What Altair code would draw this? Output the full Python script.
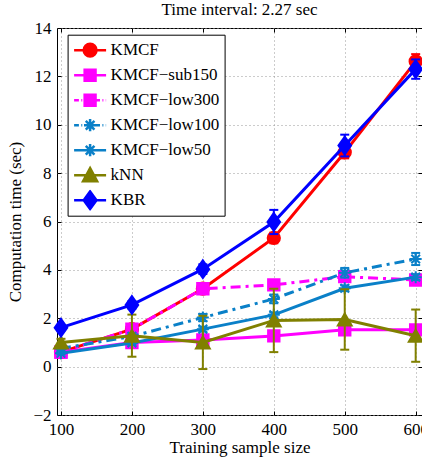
import altair as alt
import pandas as pd

x_vals = [100, 200, 300, 400, 500, 600]
y_ticks = [-2, 0, 2, 4, 6, 8, 10, 12, 14]
series_names = ["KMCF", "KMCF−sub150", "KMCF−low300", "KMCF−low100", "KMCF−low50", "kNN", "KBR"]

kmcf = [0.60, 1.55, 3.22, 5.32, 8.86, 12.62]
kmcf_err = [0.08, 0.10, 0.12, 0.22, 0.25, 0.30]
sub150 = [0.60, 1.00, 1.10, 1.27, 1.52, 1.52]
sub150_err = [0.08, 0.08, 0.08, 0.08, 0.08, 0.08]
low300 = [0.60, 1.55, 3.22, 3.38, 3.72, 3.58]
low300_err = [0.08, 0.10, 0.10, 0.10, 0.12, 0.12]
low100 = [0.75, 1.25, 2.03, 2.80, 3.88, 4.45]
low100_err = [0.05, 0.08, 0.15, 0.18, 0.20, 0.25]
low50 = [0.55, 0.98, 1.55, 2.14, 3.24, 3.70]
low50_err = [0.05, 0.08, 0.10, 0.10, 0.12, 0.12]
knn = [1.00, 1.28, 1.00, 1.91, 1.95, 1.28]
knn_err = [0.15, 0.87, 1.10, 1.31, 1.25, 1.08]
kbr = [1.61, 2.55, 4.03, 5.98, 9.14, 12.30]
kbr_err = [0.10, 0.15, 0.20, 0.50, 0.45, 0.40]

colors = ["#FF0000", "#FF00FF", "#FF00FF", "#0A80C8", "#0A80C8", "#808000", "#0000FF"]

values = [kmcf, sub150, low300, low100, low50, knn, kbr]
errors = [kmcf_err, sub150_err, low300_err, low100_err, low50_err, knn_err, kbr_err]

rows = []
for name, ys, es in zip(series_names, values, errors):
    for xv, yv, ev in zip(x_vals, ys, es):
        rows.append({"series": name, "x": xv, "y": yv, "lo": yv - ev, "hi": yv + ev})
df = pd.DataFrame(rows)

FONT = "Liberation Serif"
DASHDOT = [10, 5, 3, 5]

# marker paths (unit square [-1, 1])
CIRCLE = "M0.5,0A0.5,0.5 0 1,1 -0.5,0A0.5,0.5 0 1,1 0.5,0Z"
SQUARE = "M-0.45,-0.45L0.45,-0.45L0.45,0.45L-0.45,0.45Z"
ASTER = "M-0.5,0L0.5,0M0,-0.5L0,0.5M-0.36,-0.36L0.36,0.36M-0.36,0.36L0.36,-0.36"
TRI = "M0,-0.55L0.55,0.45L-0.55,0.45Z"
DIAM = "M0,-0.65L0.45,0L0,0.65L-0.45,0Z"

ASTER_PT = "M-1,0L1,0M0,-1L0,1M-0.72,-0.72L0.72,0.72M-0.72,0.72L0.72,-0.72"

styles = {
    "KMCF": dict(dash=None, shape="circle", size=150, filled=True),
    "KMCF−sub150": dict(dash=None, shape="square", size=130, filled=True),
    "KMCF−low300": dict(dash=DASHDOT, shape="square", size=130, filled=True),
    "KMCF−low100": dict(dash=DASHDOT, shape=ASTER_PT, size=144, filled=False),
    "KMCF−low50": dict(dash=None, shape=ASTER_PT, size=144, filled=False),
    "kNN": dict(dash=None, shape="triangle-up", size=190, filled=True),
    "KBR": dict(dash=None, shape="M0,-1.2L0.85,0L0,1.2L-0.85,0Z", size=220, filled=True),
}


def seg_line(dashdot):
    if not dashdot:
        return "M-1,0L1,0"
    segs = [(-1, -0.7), (-0.55, -0.49), (-0.34, -0.04), (0.11, 0.17), (0.32, 0.62), (0.77, 0.83), (0.98, 1.0)]
    return "".join(f"M{a},0L{b},0" for a, b in segs)


legend_paths = [
    seg_line(False) + CIRCLE.replace("0.5", "0.4"),
    seg_line(False) + SQUARE.replace("0.45", "0.34"),
    seg_line(True) + SQUARE.replace("0.45", "0.34"),
    seg_line(True) + ASTER.replace("0.5", "0.38").replace("0.36", "0.27"),
    seg_line(False) + ASTER.replace("0.5", "0.38").replace("0.36", "0.27"),
    seg_line(False) + TRI.replace("0.55", "0.44").replace("0.45", "0.38"),
    seg_line(False) + DIAM.replace("0.65", "0.55").replace("0.45", "0.4"),
]

x_scale = alt.Scale(domain=[94.4, 608.9], nice=False, zero=False)
y_scale = alt.Scale(domain=[-2, 14], nice=False, zero=False)

# main axes (bottom / left) with inward ticks via negative offset
X_main = alt.X("x:Q", scale=x_scale,
               axis=alt.Axis(orient="bottom", values=x_vals, format="d", title="Training sample size",
                             offset=-4, ticks=True, tickSize=4, tickColor="black", tickWidth=1,
                             grid=True, labelPadding=6, titlePadding=2))
Y_main = alt.Y("y:Q", scale=y_scale,
               axis=alt.Axis(orient="left", values=y_ticks, format="d", title="Computation time (sec)",
                             offset=-4, ticks=True, tickSize=4, tickColor="black", tickWidth=1,
                             grid=True, labelPadding=6, titlePadding=8))
# mirrored ticks on top / right
X_top = alt.X("x:Q", scale=x_scale,
              axis=alt.Axis(orient="top", values=x_vals, labels=False, title=None, grid=False,
                            offset=-4, ticks=True, tickSize=4, tickColor="black", tickWidth=1))
Y_right = alt.Y("y:Q", scale=y_scale,
                axis=alt.Axis(orient="right", values=y_ticks, labels=False, title=None, grid=False,
                              offset=-4, ticks=True, tickSize=4, tickColor="black", tickWidth=1))
X = alt.X("x:Q", scale=x_scale, axis=None)
Y = alt.Y("y:Q", scale=y_scale, axis=None)

layers = []
first = True
for name, color in zip(series_names, colors):
    st = styles[name]
    base = alt.Chart(df).transform_filter(alt.datum.series == name)
    line_kwargs = dict(color=color, strokeWidth=3)
    if st["dash"]:
        line_kwargs["strokeDash"] = st["dash"]
    if first:
        layers.append(base.mark_line(**line_kwargs).encode(x=X_main, y=Y_main))
        first = False
    else:
        layers.append(base.mark_line(**line_kwargs).encode(x=X, y=Y))
    layers.append(base.mark_rule(color=color, strokeWidth=2).encode(x=X, y=alt.Y("lo:Q", axis=None), y2="hi:Q"))
    layers.append(
        base.transform_fold(["lo", "hi"], as_=["k", "v"])
        .mark_tick(orient="horizontal", color=color, size=9, thickness=2, opacity=1)
        .encode(x=X, y=alt.Y("v:Q", axis=None))
    )
    pt_kwargs = dict(shape=st["shape"], size=st["size"], stroke=color, strokeWidth=2, opacity=1)
    if st["filled"]:
        pt_kwargs["fill"] = color
        pt_kwargs["filled"] = True
    else:
        pt_kwargs["filled"] = False
    layers.append(base.mark_point(**pt_kwargs).encode(x=X, y=Y))

legend = alt.Legend(
    title=None, orient="none", legendX=10.6, legendY=6.7,
    symbolSize=1024, clipHeight=21, rowPadding=4, labelOffset=3,
    labelFont=FONT, labelFontSize=17, labelColor="black", labelLimit=300,
    strokeColor="black", fillColor="white", padding=5, cornerRadius=0,
    symbolStrokeWidth=2.5,
)

color_scale = alt.Scale(domain=series_names, range=colors)
legend_layer = (
    alt.Chart(df)
    .transform_filter("false")
    .mark_point(filled=True, opacity=1, strokeWidth=2.5)
    .encode(
        x=X_top, y=Y_right,
        fill=alt.Fill("series:N", scale=color_scale, legend=legend),
        stroke=alt.Stroke("series:N", scale=color_scale, legend=legend),
        shape=alt.Shape("series:N", scale=alt.Scale(domain=series_names, range=legend_paths), legend=legend),
    )
)

chart = (
    alt.layer(*layers, legend_layer)
    .resolve_axis(x="independent", y="independent")
    .properties(
        width=365, height=387,
        title=alt.Title("Time interval: 2.27 sec", font=FONT, fontSize=17, fontWeight="normal",
                        color="black", anchor="middle", frame="group", offset=0),
        autosize=alt.AutoSizeParams(type="none"),
        padding={"left": 57, "top": 28, "right": 0, "bottom": 44},
    )
    .configure_view(stroke="black", strokeWidth=1)
    .configure_axis(
        labelFont=FONT, labelFontSize=17, labelColor="black",
        titleFont=FONT, titleFontSize=17, titleFontWeight="normal", titleColor="black",
        gridColor="#999999", gridDash=[1, 3], gridWidth=1,
        domain=False,
    )
)

chart.save("out.html", embed_options={"renderer": "svg", "actions": False})
